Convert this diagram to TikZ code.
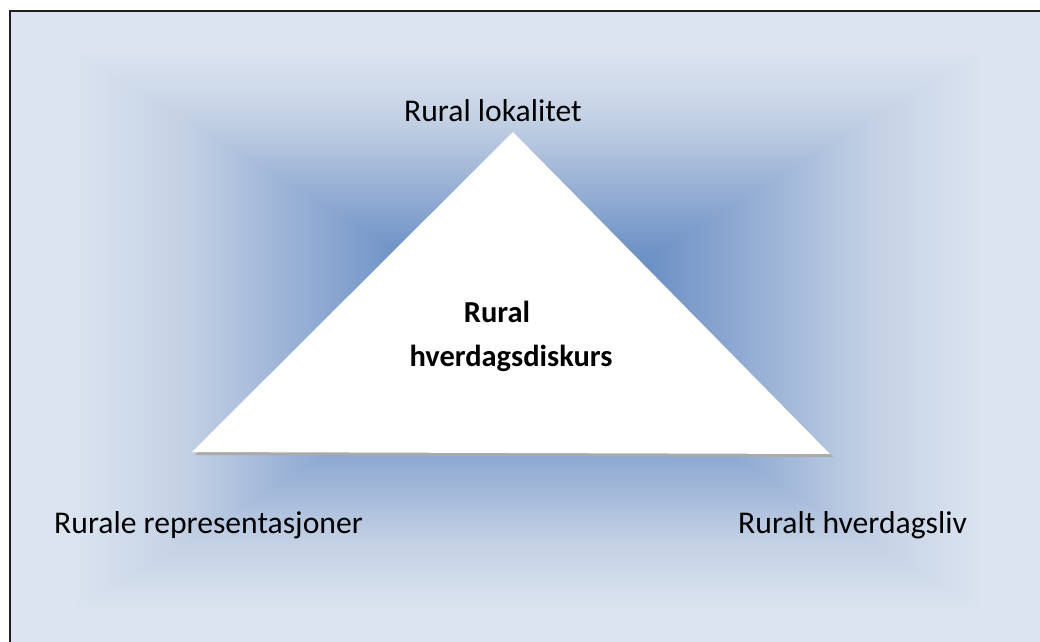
\documentclass[tikz,border=0pt]{standalone}
\usepackage{fontspec}
\setmainfont{Carlito}
\usepackage{xcolor}

\definecolor{fadeedge}{RGB}{219,228,240}
\definecolor{fadeone}{RGB}{197,210,229}
\definecolor{fadetwo}{RGB}{142,169,210}
\definecolor{fadethree}{RGB}{111,147,198}
\definecolor{fadecore}{RGB}{79,129,189}
\definecolor{framegray}{RGB}{35,31,32}
\definecolor{shadowgray}{RGB}{170,170,170}

% edge colour on top, centre colour at the bottom
\pgfdeclareverticalshading{bluefade}{100bp}{%
  color(0bp)=(fadecore); color(25bp)=(fadecore);
  color(37.5bp)=(fadethree); color(45bp)=(fadetwo);
  color(58.5bp)=(fadeone); color(69bp)=(fadeedge);
  color(75bp)=(fadeedge); color(100bp)=(fadeedge)}

\tikzset{
  label/.style={font=\fontsize{27}{32}\selectfont, text=black, inner sep=0pt},
  core/.style={label, font=\fontsize{26}{37}\selectfont\bfseries, align=center}
}

\begin{document}
\begin{tikzpicture}[x=0.03cm,y=-0.03cm]

\useasboundingbox (0,0) rectangle (1040,641);
\clip (0,0) rectangle (1040,641);

\coordinate (c0) at (10,11);
\coordinate (c1) at (1046,11);
\coordinate (c2) at (1046,650);
\coordinate (c3) at (10,650);
\coordinate (cm) at (528,330);

% background, darker towards the middle (twice, to close the seams)
\foreach \k in {1,2} {
  \shade[shading=bluefade, shading angle=0] (c0)--(c1)--(cm)--cycle;
  \shade[shading=bluefade, shading angle=180] (c3)--(c2)--(cm)--cycle;
  \shade[shading=bluefade, shading angle=90] (c0)--(c3)--(cm)--cycle;
  \shade[shading=bluefade, shading angle=270] (c1)--(c2)--(cm)--cycle;
}

\draw[framegray, line width=2.2pt] (c0) rectangle (c2);

\coordinate (top) at (513,132);
\coordinate (bl) at (192,452);
\coordinate (br) at (830,454);

\fill[shadowgray] ([shift={(3,3)}]top)--([shift={(3,3)}]bl)--([shift={(3,3)}]br)--cycle;
\fill[white] (top)--(bl)--(br)--cycle;

\node[label, anchor=base] (lok) at (493,121) {Rural lokalitet};
\node[label, anchor=base west] (rep) at (54,533) {Rurale representasjoner};
\node[label, anchor=base west] (liv) at (738,533) {Ruralt hverdagsliv};
\node[core, anchor=base] (disk) at (511,366) {Rural\hspace*{0.84cm}\\hverdagsdiskurs};

\end{tikzpicture}
\end{document}
